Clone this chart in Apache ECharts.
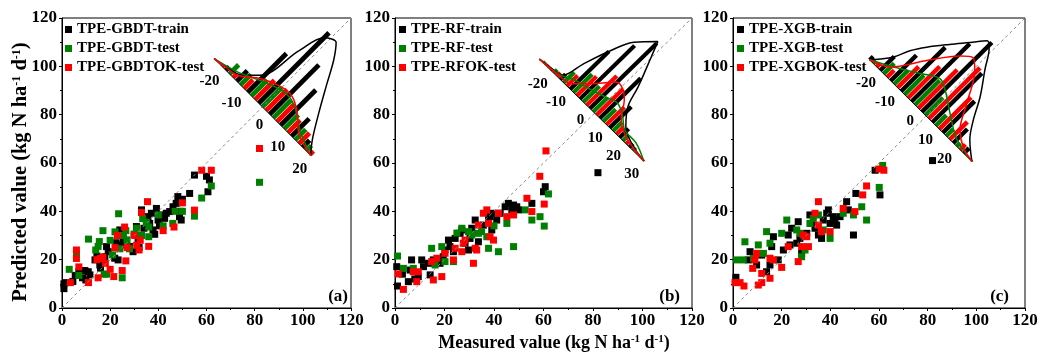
<!DOCTYPE html>
<html lang="en">
<head>
<meta charset="UTF-8">
<title>Predicted vs measured</title>
<script src="https://cdn.jsdelivr.net/npm/echarts@6/dist/echarts.min.js"></script>
<style>html, body { margin: 0; background: #fff; }</style>
</head>
<body>
<div id="main" style="width:1054px;height:356px;"></div>
<script>
// scatter values [measured, predicted]
var aTrain = [[0.8,8],[0.8,10],[1.5,10.5],[4.5,11],[5.5,13.5],[7,15],[8.5,12.5],[9.5,15.5],[9.9,11.6],[10.9,15],[11.6,13.7],[13.7,19.9],[14.5,21.5],[15.7,17.8],[16,16.5],[17.8,21.2],[18.5,25.4],[19.2,23.3],[21.9,20.6],[22.5,27],[23.3,19.9],[24,32.3],[24.7,26.1],[25.5,28.5],[26.8,28.1],[28,25.5],[29.5,23.3],[30,30.5],[30.9,33.7],[31.6,28.8],[32,25],[33,40.6],[34,33],[35.7,37.8],[36.4,35],[37.1,39.2],[37.8,32.3],[38.5,30.5],[39.2,41.2],[39.9,36.4],[40.5,34],[41.2,38.5],[42.6,37.1],[43.3,39.2],[44.7,39.9],[46.1,41.9],[47.4,43.3],[48.1,46.1],[48.8,37.8],[49.5,36.4],[49,40],[50,45],[53,47.4],[55,55],[60,54.5],[60.6,48.1],[61.2,53]];
var aTest = [[3,16],[6,22.5],[7,13.5],[11,28.5],[14,24],[15,25.5],[15.5,27.5],[17,32],[17.5,14],[18.5,14],[20,28],[21,22],[22,31.5],[23.5,39],[24,24.5],[25,12.5],[25.5,30],[26.5,32],[27,28],[28,24.5],[30,30.5],[31,33],[33,30],[33.5,37],[35,35.5],[36,29.5],[36,33.5],[40,38.5],[42,34],[46,35],[47,40],[50,40],[55,38],[58,45.5],[62,50.5],[82,52]];
var aOk = [[3.5,10.5],[6,24],[6,20.5],[7,17],[11,10.5],[14.5,20],[15,12.5],[16,20.5],[17,21],[18,18.5],[20,16],[21.5,13],[22,25],[23,30],[25,15.5],[26,33.5],[26.5,19.5],[27,25],[30,30],[31,26],[32,24],[32.5,28],[33,39.5],[35.5,44],[36,25.5],[42,32],[46.5,33.5],[50,43.5],[55,40.5],[58,57],[62,57],[82,66]];

var bTrain = [[0.7,17.1],[1,9.1],[3,14],[5.4,10.9],[6.1,15.7],[6.7,19.9],[8,12],[9.4,13],[10.8,19.9],[11.5,17.1],[13.5,18.5],[14.2,13.7],[15.5,19.9],[18.2,18.5],[19.5,21.2],[20.2,24],[21.6,28.1],[22.2,25.4],[23.6,23.3],[24.3,28.8],[26.3,30.9],[27,32.3],[28.3,26.8],[29.7,24],[30.3,28.8],[31,33],[32.4,36.4],[33.7,27.4],[35.7,34.3],[37.8,37.1],[38.4,37.8],[39.8,39.2],[39.1,32.3],[41.1,36.4],[42.5,39.2],[44.5,41.9],[45.8,43.3],[47.2,40.6],[47.9,42.6],[49.2,41.9],[49.9,40.6],[55.3,43.3],[60,48.1],[60.7,50.2],[82,56]];
var bTest = [[1,21.5],[3.4,16.4],[7.4,16.4],[14.8,24.7],[16.2,17.8],[18.9,25.4],[20.2,19.2],[23.6,19.2],[25,31],[27,33],[29.7,31.6],[31,30.2],[33.7,30.9],[35,31.6],[37.1,29.5],[37.8,24.7],[40,34],[41.8,23.3],[45.2,35],[47.9,25.4],[52.6,40.6],[55.3,36.4],[58.6,37.8],[60.3,33.9],[62,47.2]];
var bOk = [[1.3,14.1],[3.4,7.7],[7.4,15],[9.4,15],[8.8,10.9],[15.5,11.6],[14.8,19.2],[16.9,20.6],[18.9,13],[20.2,22.6],[23.6,19.9],[24.3,24.7],[27,23.3],[27.6,26.8],[28.3,28.1],[31.7,18.5],[32.4,24.7],[33,24],[33.7,34.3],[35.7,39.2],[37.1,40.6],[37.8,35],[38.4,29.5],[39.8,28.1],[41.8,39.2],[45.2,37.8],[47.9,38.5],[53.3,45.4],[55.3,39.9],[60.3,43],[58.5,54.5],[61,65]];

var cTrain = [[1.2,12.7],[6.3,19.9],[7,23.3],[9.7,17.8],[11.8,21.9],[13.8,15],[15.2,17.8],[15.9,25.4],[16.6,29.5],[18.6,19.9],[20.7,24],[22.7,30.2],[23.4,26.1],[24.1,33],[26.2,26.8],[26.8,35.7],[27.5,28.8],[28.2,22.6],[30.3,30.9],[31.6,38.5],[32.3,35],[33.7,33],[35.1,30.2],[36.4,28.8],[37.1,36.4],[38.5,39.2],[39.2,40.6],[39.9,35],[41.2,37.8],[41.9,36.4],[42.6,34.3],[44,37.8],[46.7,44],[47.4,40.6],[49.5,30.2],[50.5,47.4],[58.4,57],[60.4,46.8],[82,61]];
var cTest = [[1.5,19.9],[4.2,19.9],[4.9,27.4],[8.4,20.6],[10.4,26.1],[12.5,22.6],[13.8,31.6],[15.2,26.8],[20,30.9],[22.1,36.4],[26.2,32.3],[27.5,30.9],[28.2,21.2],[29.6,24],[31.6,35],[33,37.1],[35.1,38.5],[37.1,32.3],[39.9,28.8],[45.3,39.2],[49.5,38.5],[52.9,41.9],[54.9,36.4],[60.1,49.9],[61.5,59]];
var cOk = [[0.8,10.5],[2.9,10.5],[4.5,9.1],[8.1,16.4],[9,19.9],[9.7,22.6],[10.4,9.5],[11.8,10.5],[11.8,14.3],[15.2,12.3],[15.2,20.6],[16.6,19.9],[20,16.8],[22.7,25.4],[26.8,19.2],[28.2,25.4],[28.9,30.2],[30.3,29.5],[31,25.4],[33.7,39.2],[35.1,44],[35.1,34.3],[36.4,31.6],[39.9,31.6],[45.3,41.2],[50.1,39.9],[53.3,46.8],[54.9,50.5],[60,57.5],[62,57]];

// residual histograms (bin centres, frequencies)
var aBins = [-20,-15,-10,-5,0,5,10,15,20];
var aHistTrain = [0,1,3,11,20,14,10,5,2];
var aHistTest = [0,2.6,3,4.5,5.5,5,4,3,1.5];
var aHistOk = [0.5,1,2.5,5.5,6,5,3.5,3,1];
var bBins = [-21.6,-16.2,-10.8,-5.4,0,5.4,10.8,16.2,21.6,27,32.4];
var bHistTrain = [0,0.5,1.5,10.8,15.2,18.6,11.4,6,2.5,1,0.3];
var bHistTest = [0.5,1,3,5.2,4.5,4,3.5,2.5,1.5,0.8,0.3];
var bHistOk = [0.5,1,3,5.5,8.4,7.4,5,2,0.8,0.3,0];
var cBins = [-21,-15.5,-10,-4.5,1,6.5,12,17.5,23,28.5];
var cHistTrain = [1,4,7.3,12.5,16.5,19.8,14,9,4,1.5];
var cHistTest = [0.8,3,4,5.5,7,5,3,2,1,0.3];
var cHistOk = [1,2,6,9,11,14.5,9,5,1.5,0.3];

// density curves [residual, frequency]
var aKdeTrain = [[-22,0],[-17,0.6],[-12,1.6],[-7.8,4.1],[-4.4,13.2],[-1.6,18.6],[2.2,19.6],[5.6,16.8],[9.6,12.3],[14.4,7],[18.7,2.6],[22,0]];
var aKdeTest = [[-22,0],[-13.3,1.5],[-6.7,3.4],[1.5,5.2],[6.7,4.8],[14.1,2],[22,0]];
var aKdeOk = [[-22,0],[-17.4,0.4],[-12.7,1],[-6.7,3.8],[-0.4,5.5],[4.4,5.7],[8.9,4.3],[13.7,1.7],[17.8,0.6],[22,0]];
var bKdeTrain = [[-24,0],[-18,0.4],[-13.1,1],[-10.7,5.4],[-6.9,11.2],[-2.9,15.6],[3.4,19],[6,15.8],[10.7,9.8],[13.4,5.6],[18.5,2.4],[25,0.8],[33,0]];
var bKdeTest = [[-24,0],[-14,0.6],[-8.3,2],[-3,2.6],[4.6,3.8],[9.7,4.6],[14.8,3.4],[19,1.8],[25.9,1.5],[33,0]];
var bKdeOk = [[-24,0],[-14,0.4],[-8.3,1],[-1.8,4.4],[3.3,7.4],[7,7.4],[10.6,6],[14.8,3],[21.3,1],[33,0]];
var cKdeTrain = [[-23,0],[-20.4,1.6],[-17.4,3.8],[-14.7,7],[-11.2,9.9],[-6,13.5],[-1.1,16.7],[3,19.4],[5.5,18.6],[10,15],[16,10.4],[20.5,6],[24.7,2.8],[31,0]];
var cKdeTest = [[-23,0],[-14.7,2.4],[-6,5.2],[0.6,7.3],[5,6.4],[12.4,3.8],[21.2,1],[31,0]];
var cKdeOk = [[-23,0],[-15.6,1.9],[-7.7,8],[-0.1,13.4],[3.7,15],[7.6,13.4],[14.2,7.6],[19.5,2.8],[25,0.8],[31,0]];

var aTicks = [-20,-10,0,10,20];
var bTicks = [-20,-10,0,10,20,30];
var cTicks = [-20,-10,0,10,20];

var names = [
    ['TPE-GBDT-train', 'TPE-GBDT-test', 'TPE-GBDTOK-test'],
    ['TPE-RF-train', 'TPE-RF-test', 'TPE-RFOK-test'],
    ['TPE-XGB-train', 'TPE-XGB-test', 'TPE-XGBOK-test']
];
var letters = ['(a)', '(b)', '(c)'];

var FONT = '"Liberation Serif", "Times New Roman", serif';
var colors = ['#000000', '#008000', '#ff0000'];

// where each inset histogram sits inside its panel (data units)
var insets = [
    {ox: 83.2, oy: 83.2, rs: 0.91, hs: 1.46, rmin: -22, rmax: 22, shift: 1.67},
    {ox: 76.1, oy: 85.2, rs: 0.74, hs: 1.45, rmin: -24, rmax: 33, shift: 1.8},
    {ox: 74, oy: 84.8, rs: 0.78, hs: 1.45, rmin: -23, rmax: 31, shift: 1.8}
];
var grids = [
    {left: 62, top: 18, width: 289, height: 290},
    {left: 395, top: 18, width: 297, height: 290},
    {left: 733, top: 18, width: 292, height: 290}
];
var legendLeft = [65, 399, 737];
var letterRight = [706, 374, 45];

var panels = [
    {scatter: [aTrain, aTest, aOk], bins: aBins, hist: [aHistTrain, aHistTest, aHistOk], kde: [aKdeTrain, aKdeTest, aKdeOk], ticks: aTicks},
    {scatter: [bTrain, bTest, bOk], bins: bBins, hist: [bHistTrain, bHistTest, bHistOk], kde: [bKdeTrain, bKdeTest, bKdeOk], ticks: bTicks},
    {scatter: [cTrain, cTest, cOk], bins: cBins, hist: [cHistTrain, cHistTest, cHistOk], kde: [cKdeTrain, cKdeTest, cKdeOk], ticks: cTicks}
];

// residual r along the base line, frequency f along the 1:1 direction
function toData(p, r, f) {
    return [p.ox + r * p.rs + f * p.hs, p.oy - r * p.rs + f * p.hs];
}

var myChart = echarts.init(document.getElementById('main'));

var axisCommon = {
    type: 'value', min: 0, max: 120, interval: 20,
    axisLine: {onZero: false, lineStyle: {color: '#000', width: 1}},
    axisTick: {inside: false, length: 3, lineStyle: {color: '#000'}},
    minorTick: {show: true, splitNumber: 2, length: 2, lineStyle: {color: '#000'}},
    splitLine: {show: false},
    axisLabel: {color: '#000', fontFamily: FONT, fontWeight: 'bold', fontSize: 17}
};

var series = [];
var xAxes = [], yAxes = [], legends = [], graphics = [];

panels.forEach(function (pan, i) {
    var p = insets[i];
    xAxes.push(Object.assign({}, axisCommon, {gridIndex: i,
        axisLabel: Object.assign({}, axisCommon.axisLabel, {margin: 4})}));
    yAxes.push(Object.assign({}, axisCommon, {gridIndex: i,
        axisLabel: Object.assign({}, axisCommon.axisLabel, {margin: 5})}));

    // 1:1 line
    series.push({
        type: 'line', xAxisIndex: i, yAxisIndex: i, silent: true, symbol: 'none',
        data: [[0, 0], [120, 120]],
        lineStyle: {color: '#888', width: 1, type: [3, 3]}
    });

    pan.scatter.forEach(function (pts, k) {
        series.push({
            name: names[i][k], type: 'scatter', xAxisIndex: i, yAxisIndex: i,
            symbol: 'rect', symbolSize: 7, data: pts,
            itemStyle: {color: colors[k], opacity: 1}
        });
    });

    // histogram bars
    var bars = [];
    pan.hist.forEach(function (h, k) {
        h.forEach(function (f, j) {
            if (f > 0) bars.push([pan.bins[j] + (k - 1) * p.shift, f, k]);
        });
    });
    series.push({
        type: 'custom', xAxisIndex: i, yAxisIndex: i, silent: true, clip: false,
        data: bars,
        renderItem: function (params, api) {
            var r = api.value(0), f = api.value(1), k = api.value(2);
            var half = p.shift * 0.46;
            var pts = [[r - half, 0], [r + half, 0], [r + half, f], [r - half, f]].map(function (q) {
                return api.coord(toData(p, q[0], q[1]));
            });
            return {type: 'polygon', shape: {points: pts}, style: {fill: colors[k]}};
        }
    });

    // base line of the inset
    series.push({
        type: 'line', xAxisIndex: i, yAxisIndex: i, silent: true, symbol: 'none',
        data: [toData(p, p.rmin, 0), toData(p, p.rmax, 0)],
        lineStyle: {color: '#000', width: 1}
    });

    pan.kde.forEach(function (curve, k) {
        series.push({
            type: 'line', xAxisIndex: i, yAxisIndex: i, silent: true, symbol: 'none',
            smooth: 0.35,
            data: curve.map(function (q) { return toData(p, q[0], q[1]); }),
            lineStyle: {color: colors[k], width: 1.5}
        });
    });

    // residual tick labels
    series.push({
        type: 'custom', xAxisIndex: i, yAxisIndex: i, silent: true, clip: false,
        data: pan.ticks.map(function (t) { return [t, 0]; }),
        renderItem: function (params, api) {
            var r = api.value(0);
            var pt = api.coord(toData(p, r, 0));
            return {
                type: 'text', x: pt[0] + 1, y: pt[1] + 18,
                style: {text: String(r), align: 'right', verticalAlign: 'middle',
                    font: 'bold 15px ' + FONT, fill: '#000'}
            };
        }
    });

    legends.push({
        left: legendLeft[i], top: 22, orient: 'vertical', padding: 0,
        itemGap: 4, itemWidth: 7, itemHeight: 7, icon: 'rect',
        data: names[i],
        textStyle: {fontFamily: FONT, fontWeight: 'bold', fontSize: 15, lineHeight: 15, color: '#000'}
    });

    graphics.push({
        type: 'text', right: letterRight[i], bottom: 51,
        style: {text: letters[i], font: 'bold 17px ' + FONT, fill: '#000'}
    });
});

var supStyle = {fontSize: 12, fontWeight: 'bold', fontFamily: FONT, verticalAlign: 'top', fill: '#000'};
graphics.push({
    type: 'text', x: 21, y: 172, rotation: Math.PI / 2,
    style: {text: 'Predicted value (kg N ha{s|-1} d{s|-1})', align: 'center', verticalAlign: 'middle',
        font: 'bold 20.5px ' + FONT, fill: '#000', rich: {s: supStyle}}
});
graphics.push({
    type: 'text', x: 554, y: 343,
    style: {text: 'Measured value (kg N ha{s|-1} d{s|-1})', align: 'center', verticalAlign: 'middle',
        font: 'bold 18px ' + FONT, fill: '#000', rich: {s: Object.assign({}, supStyle, {fontSize: 11})}}
});

var option = {
    animation: false,
    backgroundColor: '#fff',
    grid: grids.map(function (g) {
        return Object.assign({show: true, borderColor: '#000', borderWidth: 1, backgroundColor: 'transparent'}, g);
    }),
    xAxis: xAxes,
    yAxis: yAxes,
    legend: legends,
    graphic: graphics,
    series: series
};

myChart.setOption(option);
</script>
</body>
</html>
